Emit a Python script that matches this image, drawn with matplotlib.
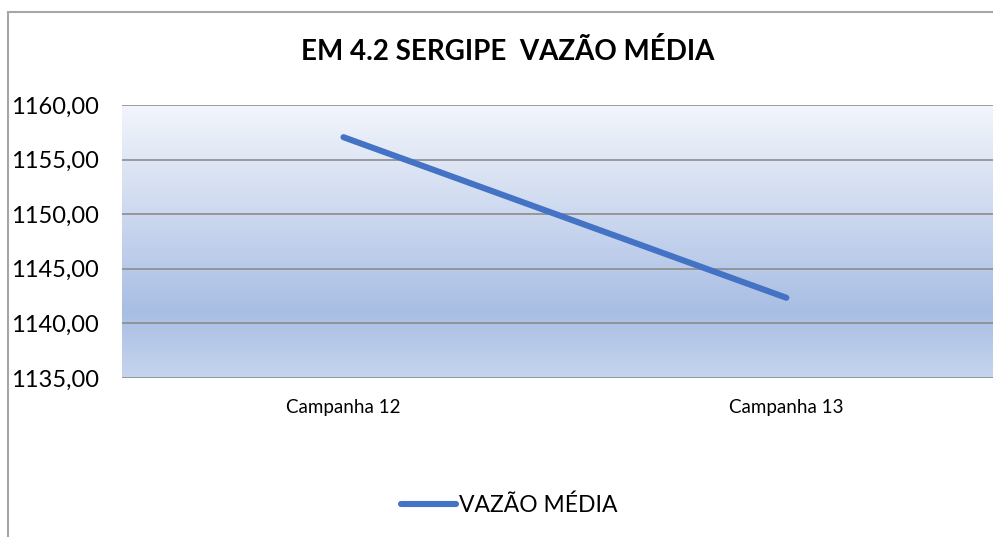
import matplotlib.pyplot as plt
import numpy as np
from matplotlib.colors import LinearSegmentedColormap
from matplotlib.patches import Rectangle

# mean flow per campaign
campanhas = ["Campanha 12", "Campanha 13"]
vazao_media = [1157.05, 1142.35]
yticks = [1135, 1140, 1145, 1150, 1155, 1160]

plt.rcParams['font.family'] = ['Lato', 'DejaVu Sans']

fig = plt.figure(figsize=(9.93, 5.37), dpi=100)
ax = fig.add_axes([0.1229, 0.296, 0.892, 0.5085])

# vertical gradient behind the plot area
grad = LinearSegmentedColormap.from_list(
    "bg", [(0.0, "#c6d5ee"), (0.24, "#a9bee4"), (1.0, "#f3f6fb")])
ax.imshow(np.linspace(0, 1, 256).reshape(-1, 1), cmap=grad, aspect='auto',
          extent=[0, 1, 0, 1], transform=ax.transAxes, origin='lower', zorder=0)

x = np.arange(len(campanhas))
ax.plot(x, vazao_media, color='#4472c4', lw=4.4, solid_capstyle='round',
        label='VAZÃO MÉDIA', zorder=3)

ax.set_xlim(-0.5, 1.5)
ax.set_ylim(1135, 1160)
ax.set_yticks(yticks)
ax.set_yticklabels([f"{v:.2f}".replace('.', ',') for v in yticks], fontsize=17)
ax.set_xticks(x)
ax.set_xticklabels(campanhas, fontsize=13.5)
ax.tick_params(axis='y', length=0, pad=16.5)
ax.tick_params(axis='x', length=0, pad=15)
for s in ax.spines.values():
    s.set_visible(False)
ax.yaxis.grid(True, color='#8c8c8c', lw=1.2)
ax.set_axisbelow(False)
for gl in ax.get_ygridlines():
    gl.set_zorder(1)

fig.text(0.511, 0.905, "EM 4.2 SERGIPE  VAZÃO MÉDIA", ha='center', va='center',
         fontsize=20, fontweight='bold')

fig.legend(loc='center', bbox_to_anchor=(0.513, 0.06), frameon=False, fontsize=16.5,
           handlelength=2.4, handletextpad=0.15)

# outer chart frame
fig.patches.append(Rectangle((8 / 993, -0.1), 1.2, 1 - 12 / 537 + 0.1,
                             transform=fig.transFigure, fill=False,
                             edgecolor='#a6a6a6', lw=1.5))

fig.savefig("out.png", dpi=100)
